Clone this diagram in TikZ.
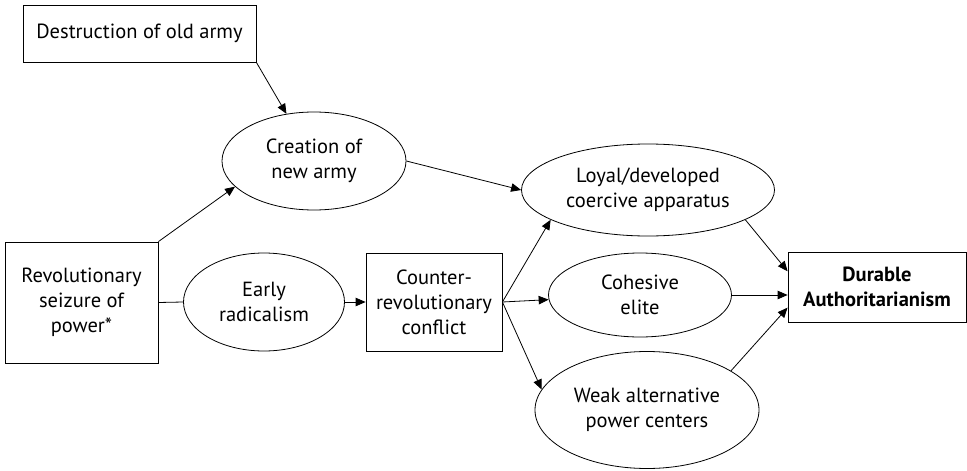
\documentclass[tikz,border=0pt]{standalone}
\usepackage{fontspec}
\setmainfont{PT Sans}
\usetikzlibrary{shapes.geometric,arrows.meta}
\begin{document}
\begin{tikzpicture}[
  x=1pt, y=-1pt,
  >={Triangle[length=10pt,width=8.5pt]},
  line width=0.8pt,
  every node/.style={draw, align=center, inner sep=0pt, font=\fontsize{20.5}{25}\selectfont},
  box/.style={rectangle},
  oval/.style={ellipse}
]
  \useasboundingbox (0,0) rectangle (967,471);

  \node[box, minimum width=233pt, minimum height=57pt] (old) at (139.5,33.5) {Destruction of old army};
  \node[oval, minimum width=184pt, minimum height=98pt] (newarmy) at (314,161) {Creation of\\new army};
  \node[box, minimum width=153pt, minimum height=121pt] (seizure) at (81.5,302.5) {Revolutionary\\seizure of\\power*};
  \node[oval, minimum width=161pt, minimum height=98pt] (radical) at (264,302) {Early\\radicalism};
  \node[box, minimum width=136pt, minimum height=98pt] (counter) at (434,302) {Counter-\\revolutionary\\conflict};
  \node[oval, minimum width=253pt, minimum height=92pt] (coercive) at (648,190) {Loyal/developed\\coercive apparatus};
  \node[oval, minimum width=183pt, minimum height=84pt] (cohesive) at (640,295) {Cohesive\\elite};
  \node[oval, minimum width=224pt, minimum height=117pt] (weak) at (647,410) {Weak alternative\\power centers};
  \node[box, minimum width=178pt, minimum height=70pt, font=\fontsize{20.5}{25}\selectfont\bfseries] (durable) at (877,287) {Durable\\Authoritarianism};

  \draw[->] (old.south east) -- (newarmy);
  \draw[->] (seizure.north east) -- (newarmy.198);
  \draw (seizure.east) -- (radical.west);
  \draw[->] (radical.east) -- (counter.west);
  \draw[->] (newarmy.east) -- (coercive.west);

  \draw[->] (counter.east) -- (coercive.197);
  \draw[->] (counter.east) -- (cohesive);
  \draw[->] (counter.east) -- (weak.169);

  \draw[->] (coercive.-17) -- (durable.170);
  \draw[->] (cohesive.east) -- (cohesive.east -| durable.west);
  \draw[->] (weak.25) -- (durable.193);
\end{tikzpicture}
\end{document}
